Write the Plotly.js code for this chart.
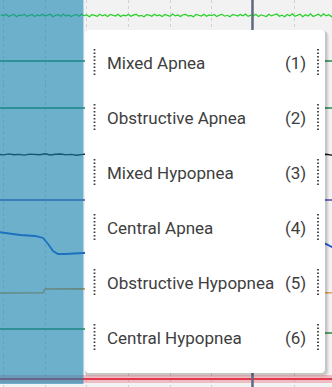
<!DOCTYPE html>
<html>
<head>
<meta charset="utf-8">
<script src="https://cdn.plot.ly/plotly-3.0.1.min.js"></script>
<style>
html,body{margin:0;padding:0;background:#f2f2f2;}
#chart{width:332px;height:387px;}
</style>
</head>
<body>
<div id="chart"></div>
<script>
// ---- data (signal samples, seconds / display units) ----
const fineTimes = [-0.0625,
  0,0.0625,0.125,0.1875,0.25,0.3125,0.375,0.4375,0.5,0.5625,0.625,0.6875,0.75,0.8125,0.875,0.9375,
  1,1.0625,1.125,1.1875,1.25,1.3125,1.375,1.4375,1.5,1.5625,1.625,1.6875,1.75,1.8125,1.875,1.9375,
  2,2.0625,2.125,2.1875,2.25,2.3125,2.375,2.4375,2.5,2.5625,2.625,2.6875,2.75,2.8125,2.875,2.9375,
  3,3.0625,3.125,3.1875,3.25,3.3125,3.375,3.4375,3.5,3.5625,3.625,3.6875,3.75,3.8125,3.875,3.9375,
  4,4.0625,4.125,4.1875,4.25,4.3125,4.375,4.4375,4.5,4.5625,4.625,4.6875,4.75,4.8125,4.875,4.9375,
  5,5.0625,5.125,5.1875,5.25,5.3125,5.375,5.4375,5.5,5.5625,5.625,5.6875,5.75,5.8125,5.875,5.9375,
  6,6.0625,6.125,6.1875,6.25,6.3125,6.375,6.4375,6.5,6.5625,6.625,6.6875,6.75,6.8125,6.875,6.9375,
  7,7.0625,7.125,7.1875,7.25,7.3125,7.375,7.4375,7.5,7.5625,7.625,7.6875,7.75,7.8125,7.875,7.9375,
  8];
const spo2Noise = [
  0.9,-0.4,1.3,-1.0,0.2,1.1,-1.3,0.6,-0.2,1.2,-0.9,0.4,1.0,
  -1.1,0.7,-0.3,1.3,-0.6,0.1,1.2,-1.2,0.3,0.9,-0.8,1.4,-0.5,
  0.6,-1.0,0.2,1.1,-0.7,1.3,-0.2,0.5,-1.2,0.8,0.1,-0.9,1.2,
  -0.4,0.7,-1.1,1.0,0.3,-0.6,1.3,-1.0,0.4,-0.3,1.1,-0.8,0.6,
  1.2,-0.5,0.2,-1.2,0.9,0.4,-0.7,1.3,-0.3,0.6,-1.1,1.0,0.2,
  -0.9,1.4,-0.4,0.5,-1.0,0.8,1.2,-0.6,0.1,-1.2,1.1,0.3,-0.5,
  1.3,-0.8,0.6,-0.2,1.0,-1.1,0.4,1.2,-0.7,0.2,-1.3,0.9,0.5,
  -0.6,1.1,-0.3,1.4,-0.9,0.3,-0.5,1.2,-1.1,0.7,0.2,-1.0,1.3,
  -0.4,0.8,1.5,-0.8,0.4,-1.2,1.0,-0.3,1.6,-0.9,0.5,1.3,-1.2,
  0.7,-0.5,1.6,-1.0,0.3,1.4,-0.7,1.7,-0.4,0.9,-1.1,1.5,0.6];
const sampleTimes = [-0.125,0,0.125,0.25,0.375,0.5,0.625,0.75,0.875,1,1.125,1.25,1.375,1.5,1.625,1.75,1.875,2,2.125,2.25,2.375,2.5,2.625,2.75,2.875,3,3.125,3.25,3.375,3.5,3.625,3.75,3.875,4,4.125,4.25,4.375,4.5,4.625,4.75,4.875,5,5.125,5.25,5.375,5.5,5.625,5.75,5.875,6,6.125,6.25,6.375,6.5,6.625,6.75,6.875,7,7.125,7.25,7.375,7.5,7.625,7.75,7.875,8];
const snoreNoise = [
  0.3,-0.4,0.6,-0.2,0.1,-0.6,0.4,0.2,-0.3,0.7,-0.5,
  0.2,0.5,-0.4,0.1,-0.7,0.3,0.6,-0.2,0.4,-0.5,0.0,
  0.5,-0.3,0.2,-0.6,0.4,0.1,-0.4,0.6,-0.2,0.3,-0.5,
  0.4,-0.1,0.6,-0.4,0.2,-0.6,0.3,0.5,-0.3,0.1,-0.4,
  0.6,-0.2,0.3,-0.5,0.4,0.2,-0.6,0.5,-0.1,0.3,-0.4,
  0.2,0.6,-0.3,0.4,-0.5,0.1,0.5,-0.2,0.3,-0.6,0.4];
const flatTimes = [-0.125, 8];
const flatValues = [0, 0];
const flowTimes = [-0.125,0.4,0.76,0.95,1.07,1.19,1.31,1.48,1.92,3,5,7,7.6,7.89,8];
const flowValues = [12,9,8,6,0,-7,-10,-10,-9,-6,0,3,3,-3,-3];
const effortTimes = [-0.125,0.5,0.95,1.0,1.9,4,7.5,8];
const effortValues = [-2,-2.2,-1.8,2,2.3,1,-2,-2];
const abdTimes = [-0.125,1.9,7.5,8];
const abdValues = [2,2,-2,-2];
const selectionStart = -0.2, selectionEnd = 1.92;
const cursorTime = 5.98;
const eventTypes = ["Mixed Apnea","Obstructive Apnea","Mixed Hypopnea","Central Apnea","Obstructive Hypopnea","Central Hypopnea"];
const eventKeys = ["(1)","(2)","(3)","(4)","(5)","(6)"];

// ---- layout helpers (pixel geometry of the 332x387 view) ----
const W = 332, H = 387;
const px = v => v / W;
const py = v => 1 - v / H;
// channel bands: [topPx, bottomPx, baselinePx]
const bands = [[0,38,15.5],[38,84,61],[84,131,108],[131,177,154.5],[177,220,200],[220,268,244],[268,311,291],[311,355,331],[355,387,379]];

const channels = [
  {x: fineTimes, y: spo2Noise, color:'#22d022', width:1.2},
  {x: flatTimes, y: flatValues, color:'#24884a', width:1.6},
  {x: flatTimes, y: flatValues, color:'#24884a', width:1.6},
  {x: sampleTimes, y: snoreNoise, color:'#151515', width:1.4},
  {x: flatTimes, y: flatValues, color:'#4a4aa8', width:1.6},
  {x: flowTimes, y: flowValues, color:'#2a55d0', width:1.8},
  {x: effortTimes, y: effortValues, color:'#e09038', width:1.4},
  {x: abdTimes, y: abdValues, color:'#2a8a3c', width:1.6},
  {x: flatTimes, y: flatValues, color:'#e23a4c', width:1.8}
];

const traces = [];
const layout = {
  width: W, height: H,
  margin: {l:0, r:0, t:0, b:0, pad:0},
  paper_bgcolor: '#f2f2f2', plot_bgcolor: '#f2f2f2',
  showlegend: false,
  xaxis: {range: [-0.084, 7.89], dtick: 1, tick0: 0, showgrid: true, gridcolor: 'rgba(0,0,0,0.13)',
          griddash: 'dot', gridwidth: 1, zeroline: false, showticklabels: false, ticks: '', showline: false, fixedrange: true},
  shapes: [], annotations: []
};

channels.forEach((c, i) => {
  const b = bands[i];
  const ax = i === 0 ? 'yaxis' : 'yaxis' + (i + 1);
  const ref = i === 0 ? 'y' : 'y' + (i + 1);
  layout[ax] = {domain: [py(b[1]), py(b[0])], range: [-(b[1] - b[2]), b[2] - b[0]],
                visible: false, showgrid: false, zeroline: false, fixedrange: true, anchor: 'x'};
  if (i === 8) {
    traces.push({type:'scatter', mode:'lines', x: c.x, y: c.y, yaxis: ref, xaxis:'x',
                 line:{color:'rgba(235,90,110,0.35)', width:8}, hoverinfo:'skip'});
  }
  traces.push({type:'scatter', mode:'lines', x: c.x, y: c.y, yaxis: ref, xaxis:'x',
               line:{color: c.color, width: c.width}, hoverinfo:'skip'});
});

// cursor line
layout.shapes.push({type:'line', xref:'x', yref:'paper', x0: cursorTime, x1: cursorTime, y0: 0, y1: 1,
                    line:{color:'#5d6b82', width:2.5}, layer:'above'});
// selection overlay
layout.shapes.push({type:'rect', xref:'x', yref:'paper', x0: selectionStart, x1: selectionEnd, y0: py(384), y1: 1,
                    fillcolor:'rgb(18,132,178)', opacity:0.6, line:{width:0}, layer:'above'});

function roundRect(l, t, r, b, rad) {
  const rx = rad / W, ry = rad / H;
  const L = px(l), R = px(r), T = py(t), B = py(b);
  return `M ${L+rx},${T} L ${R-rx},${T} Q ${R},${T} ${R},${T-ry} L ${R},${B+ry} Q ${R},${B} ${R-rx},${B} ` +
         `L ${L+rx},${B} Q ${L},${B} ${L},${B+ry} L ${L},${T-ry} Q ${L},${T} ${L+rx},${T} Z`;
}
// menu shadow
[[3,0.05],[2,0.06],[1,0.08]].forEach(([o,a]) => {
  layout.shapes.push({type:'path', xref:'paper', yref:'paper', path: roundRect(85, 30 + o*0.5, 325 + o + 1, 373 + o + 1, 5),
                      fillcolor:`rgba(0,0,0,${a})`, line:{width:0}, layer:'above'});
});
// menu body
layout.shapes.push({type:'path', xref:'paper', yref:'paper', path: roundRect(85, 30, 325, 373, 4),
                    fillcolor:'#ffffff', line:{width:0}, layer:'above'});

const menuFont = {family:'Roboto', size:17, weight:400, color:'#3e3e3e'};
eventTypes.forEach((name, i) => {
  const cy = 63 + i * 55;
  [94.5, 318].forEach(xx => {
    layout.shapes.push({type:'line', xref:'paper', yref:'paper', x0: px(xx), x1: px(xx), y0: py(cy - 14), y1: py(cy + 14),
                        line:{color:'#3a3a3a', width:1.8, dash:'1.6px,1.9px'}, layer:'above'});
  });
  layout.annotations.push({xref:'paper', yref:'paper', x: px(105), y: py(cy), xanchor:'left', yanchor:'middle',
                           text: name, showarrow:false, font: menuFont});
  layout.annotations.push({xref:'paper', yref:'paper', x: px(308), y: py(cy), xanchor:'right', yanchor:'middle',
                           text: eventKeys[i], showarrow:false, font: menuFont});
});

Plotly.newPlot('chart', traces, layout, {staticPlot:true, displayModeBar:false});
</script>
</body>
</html>
